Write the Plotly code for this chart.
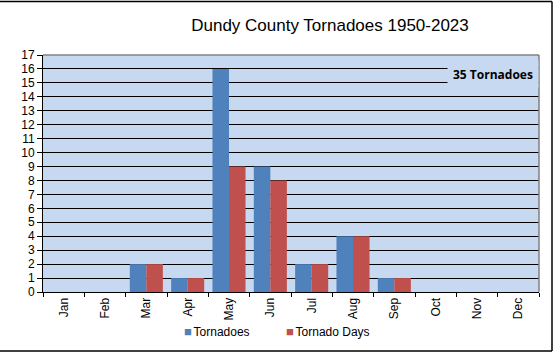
import plotly.graph_objects as go

months = ["Jan", "Feb", "Mar", "Apr", "May", "Jun", "Jul", "Aug", "Sep", "Oct", "Nov", "Dec"]
tornadoes = [0, 0, 2, 1, 16, 9, 2, 4, 1, 0, 0, 0]
tornado_days = [0, 0, 2, 1, 9, 8, 2, 4, 1, 0, 0, 0]
y_ticks = list(range(0, 18))
series_names = ["Tornadoes", "Tornado Days"]
series_colors = ["#4F81BD", "#C0504D"]
title_text = "Dundy County Tornadoes 1950-2023"
note_text = "35 Tornadoes"

FONT = "Arial"

fig = go.Figure()
fig.add_trace(go.Bar(x=months, y=tornadoes, name=series_names[0],
                     marker=dict(color=series_colors[0], line_width=0)))
fig.add_trace(go.Bar(x=months, y=tornado_days, name=series_names[1],
                     marker=dict(color=series_colors[1], line_width=0)))

W, H = 556, 354
L, R, T, B = 43, 17, 55, 62
pw, ph = W - L - R, H - T - B

def px_x(x):
    return (x - L) / pw

def px_y(y):
    return (H - B - y) / ph

fig.update_layout(
    width=W, height=H,
    margin=dict(l=L, r=R, t=T, b=B, pad=0),
    paper_bgcolor="white",
    plot_bgcolor="#C6D9F1",
    barmode="group",
    bargap=0.2,
    bargroupgap=0,
    font=dict(family=FONT, size=12, color="black"),
    title=dict(text=title_text, x=330 / W, xanchor="center",
               y=1 - 25 / H, yanchor="middle",
               font=dict(size=17, family=FONT, color="black")),
    showlegend=False,
    xaxis=dict(
        tickangle=-90, tickfont=dict(size=12, family=FONT), showline=True, linecolor="black", linewidth=1,
        ticks="outside", ticklen=4, tickcolor="black", tickson="boundaries", showgrid=False,
        mirror=False,
    ),
    yaxis=dict(
        range=[0, 17], tickvals=y_ticks, ticks="outside", ticklen=5, tickcolor="black",
        showline=True, linecolor="black", linewidth=1, showgrid=True, gridcolor="black",
        gridwidth=1, zeroline=False, tickfont=dict(size=12, family=FONT),
    ),
)

# plot area gray border top/right
fig.add_shape(type="line", xref="paper", yref="paper", x0=0, x1=1, y0=1, y1=1,
              line=dict(color="#808080", width=1.5))
fig.add_shape(type="line", xref="paper", yref="paper", x0=1, x1=1, y0=0, y1=1,
              line=dict(color="#808080", width=1.5))

# outer chart border (top, right, bottom)
fig.add_shape(type="line", xref="paper", yref="paper", x0=px_x(0), x1=px_x(552), y0=px_y(1.5), y1=px_y(1.5),
              line=dict(color="black", width=1.5))
fig.add_shape(type="line", xref="paper", yref="paper", x0=px_x(552), x1=px_x(552), y0=px_y(1.5), y1=px_y(351),
              line=dict(color="black", width=1.5))
fig.add_shape(type="line", xref="paper", yref="paper", x0=px_x(0), x1=px_x(552), y0=px_y(351), y1=px_y(351),
              line=dict(color="black", width=1.5))

# legend drawn as text entries (small square swatch + label)
legend_x = [182, 284]
for name, color, lx in zip(series_names, series_colors, legend_x):
    fig.add_annotation(
        text=f'<span style="color:{color};font-size:13px">■</span><span style="font-size:6px"> </span>{name}',
        xref="paper", yref="paper", x=px_x(lx), y=px_y(331), xanchor="left", yanchor="middle",
        showarrow=False, font=dict(size=12, family=FONT, color="black"))

fig.add_annotation(text="<b>" + note_text + "</b>", xref="paper", yref="paper",
                   x=px_x(493), y=px_y(74), xanchor="center", yanchor="middle", showarrow=False,
                   font=dict(size=12, family="Open Sans, Liberation Sans", color="black"),
                   bgcolor="#C6D9F1", borderpad=5)

fig.write_html("out.html")
